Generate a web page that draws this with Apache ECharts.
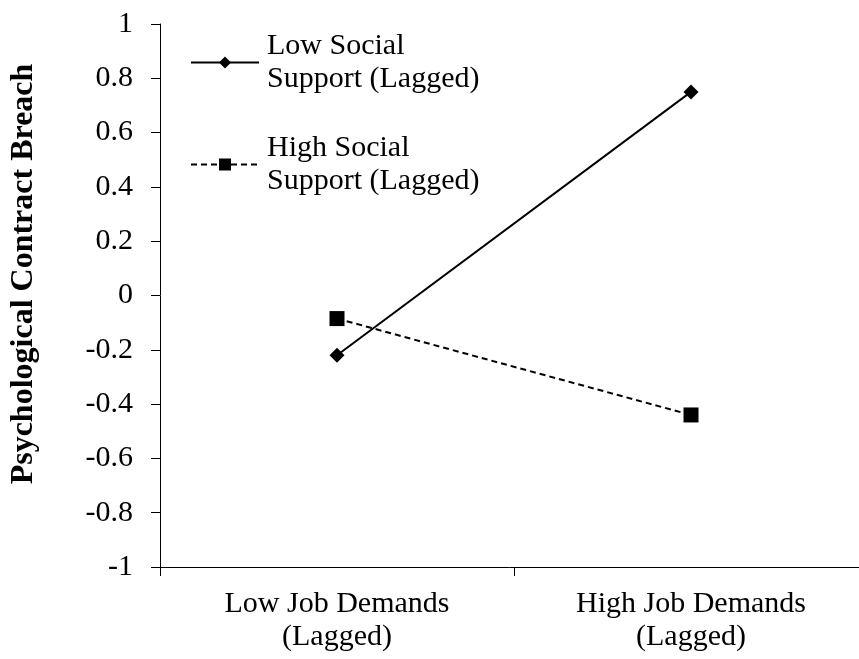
<!DOCTYPE html>
<html><head><meta charset="utf-8">
<script src="https://cdn.jsdelivr.net/npm/echarts@6/dist/echarts.min.js"></script>
<style>html,body{margin:0;padding:0;background:#fff}#c{width:859px;height:659px}</style>
</head><body><div id="c"></div>
<script>
var categories = ['Low Job Demands\n(Lagged)', 'High Job Demands\n(Lagged)'];
var lowSupport = [-0.22, 0.75];
var highSupport = [-0.085, -0.44];
var seriesNames = ['Low Social\nSupport (Lagged)', 'High Social\nSupport (Lagged)'];
var yTitle = 'Psychological Contract Breach';

var font = '"Liberation Serif", "Times New Roman", serif';
var chart = echarts.init(document.getElementById('c'), null, {renderer: 'canvas'});
chart.setOption({
  animation: false,
  backgroundColor: '#fff',
  grid: {left: 160, right: -9, top: 24, bottom: 92, containLabel: false, outerBoundsMode: 'none'},
  legend: {
    orient: 'vertical', left: 190, top: 13, padding: 0, itemGap: 3,
    itemWidth: 68, itemHeight: 15,
    textStyle: {fontFamily: font, fontSize: 30, color: '#000', lineHeight: 33, padding: [33, 0, 0, 3]},
    data: seriesNames
  },
  xAxis: {
    type: 'category', data: categories, boundaryGap: true,
    axisLine: {onZero: false, lineStyle: {color: '#000', width: 1}},
    axisTick: {show: true, length: 9, lineStyle: {color: '#000'}},
    axisLabel: {fontFamily: font, fontSize: 30, color: '#000', lineHeight: 33, margin: 21, interval: 0}
  },
  yAxis: {
    type: 'value', min: -1, max: 1, interval: 0.2,
    name: yTitle, nameLocation: 'middle', nameGap: 120, nameRotate: 90,
    nameTextStyle: {fontFamily: font, fontSize: 32, fontWeight: 'bold', color: '#000', padding: [0, 0, 0, 43]},
    axisLine: {show: true, lineStyle: {color: '#000', width: 1}},
    axisTick: {show: true, length: 9, lineStyle: {color: '#000'}},
    splitLine: {show: false},
    axisLabel: {fontFamily: font, fontSize: 30, color: '#000', margin: 27,
      formatter: function (v) { return String(Math.round(v * 10) / 10); }}
  },
  series: [
    {name: seriesNames[0], type: 'line', data: lowSupport, symbol: 'diamond', symbolSize: 15,
     itemStyle: {color: '#000'}, lineStyle: {color: '#000', width: 2, type: 'solid'}},
    {name: seriesNames[1], type: 'line', data: highSupport, symbol: 'rect', symbolSize: 15,
     itemStyle: {color: '#000'}, lineStyle: {color: '#000', width: 2, type: [6, 4]}}
  ]
});
</script></body></html>
